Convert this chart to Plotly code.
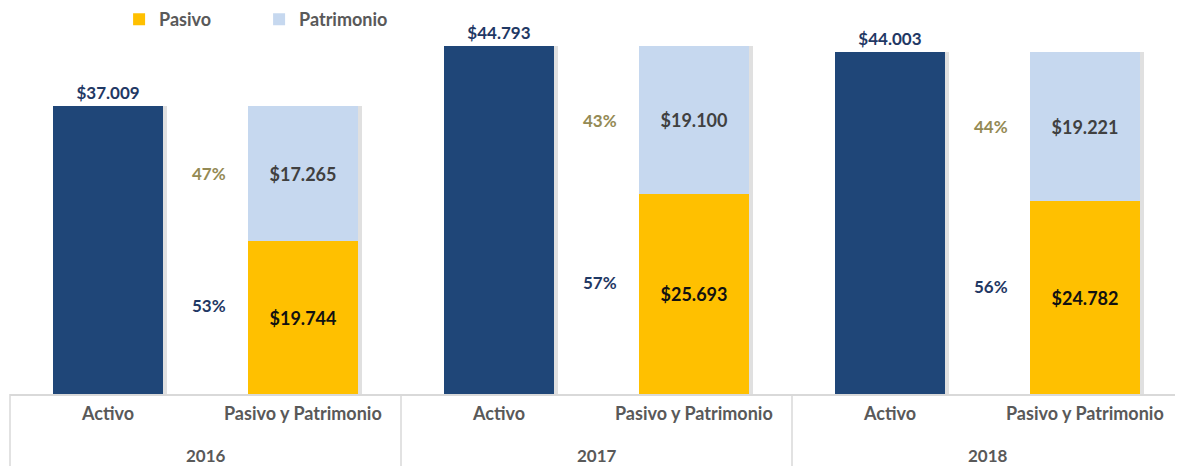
import plotly.graph_objects as go

# --- data ---
years = ["2016", "2017", "2018"]
activo = [37009, 44793, 44003]
pasivo = [19744, 25693, 24782]
patrimonio = [17265, 19100, 19221]
cat_labels = ["Activo", "Pasivo y Patrimonio"]

NAVY = "#1F4678"
YELLOW = "#FFC000"
LIGHT = "#C6D8EF"
GRAY = "#595959"
FONT = "Lato"


def money(v):
    return "$" + f"{v:,.0f}".replace(",", ".")


x_act = [2 * i for i in range(len(years))]
x_pyp = [2 * i + 1 for i in range(len(years))]
bar_w = 0.565
tot_pyp = [p + q for p, q in zip(pasivo, patrimonio)]

fig = go.Figure()

# soft drop shadows behind the bars
for xs, ys in [(x_act, activo), (x_pyp, tot_pyp)]:
    fig.add_trace(go.Bar(x=[x + 0.02 for x in xs], y=ys, width=bar_w,
                         marker=dict(color="rgba(0,0,0,0.12)", line_width=0),
                         showlegend=False, hoverinfo="skip"))

fig.add_trace(go.Bar(
    x=x_act, y=activo, width=bar_w, name="Activo", showlegend=False,
    marker=dict(color=NAVY, line_width=0),
    text=[f"<b>{money(v)}</b>" for v in activo], textposition="outside",
    textfont=dict(family=FONT, size=17, color="#1F3864"), cliponaxis=False,
))
fig.add_trace(go.Bar(
    x=x_pyp, y=pasivo, width=bar_w, name="Pasivo",
    marker=dict(color=YELLOW, line_width=0),
    text=[f"<b>{money(v)}</b>" for v in pasivo], textposition="inside",
    insidetextanchor="middle",
    textfont=dict(family=FONT, size=18, color="#111111"),
))
fig.add_trace(go.Bar(
    x=x_pyp, y=patrimonio, base=pasivo, width=bar_w, name="Patrimonio",
    marker=dict(color=LIGHT, line_width=0),
    text=[f"<b>{money(v)}</b>" for v in patrimonio], textposition="inside",
    insidetextanchor="middle",
    textfont=dict(family=FONT, size=18, color="#404040"),
))

# percentage labels between the bars
for i in range(len(years)):
    pct_pas = round(100 * pasivo[i] / activo[i])
    pct_pat = round(100 * patrimonio[i] / activo[i])
    fig.add_annotation(x=x_act[i] + 0.52, y=pasivo[i] + patrimonio[i] / 2,
                       text=f"<b>{pct_pat}%</b>", showarrow=False,
                       font=dict(family=FONT, size=17, color="#948A54"))
    fig.add_annotation(x=x_act[i] + 0.52, y=pasivo[i] / 2 + 1500,
                       text=f"<b>{pct_pas}%</b>", showarrow=False,
                       font=dict(family=FONT, size=17, color="#1F3864"))
    # category and year labels below the axis
    for j, xv in enumerate([x_act[i], x_pyp[i]]):
        fig.add_annotation(x=xv, y=0, yref="paper", yanchor="middle", yshift=-19,
                           text=f"<b>{cat_labels[j]}</b>", showarrow=False,
                           font=dict(family=FONT, size=18, color=GRAY))
    fig.add_annotation(x=x_act[i] + 0.5, y=0, yref="paper", yanchor="middle", yshift=-61,
                       text=f"<b>{years[i]}</b>", showarrow=False,
                       font=dict(family=FONT, size=17, color=GRAY))

# group dividers
for k in range(len(years) + 1):
    fig.add_shape(type="line", xref="paper", yref="paper",
                  x0=k / len(years), x1=k / len(years), y0=0, y1=-0.19,
                  line=dict(color="#D9D9D9", width=1.5))

# page body adds an 8px margin, so the figure is sized to fit the window
fig.update_layout(
    width=1175, height=458,
    margin=dict(l=2, r=0, t=0, b=72, autoexpand=False),
    barmode="overlay",
    bargap=0,
    plot_bgcolor="white", paper_bgcolor="white",
    showlegend=True,
    legend=dict(orientation="h", x=0.093, y=1.018, xanchor="left", yanchor="top",
                font=dict(family=FONT, size=18, color=GRAY, weight="bold"),
                entrywidth=95, bgcolor="rgba(0,0,0,0)"),
    xaxis=dict(range=[-0.5, 5.5], showticklabels=False, ticks="",
               showgrid=False, zeroline=False,
               showline=True, linecolor="#D9D9D9", linewidth=1.5),
    yaxis=dict(range=[0, 49650], visible=False, showgrid=False),
    font=dict(family=FONT),
)

fig.write_html("out.html")
